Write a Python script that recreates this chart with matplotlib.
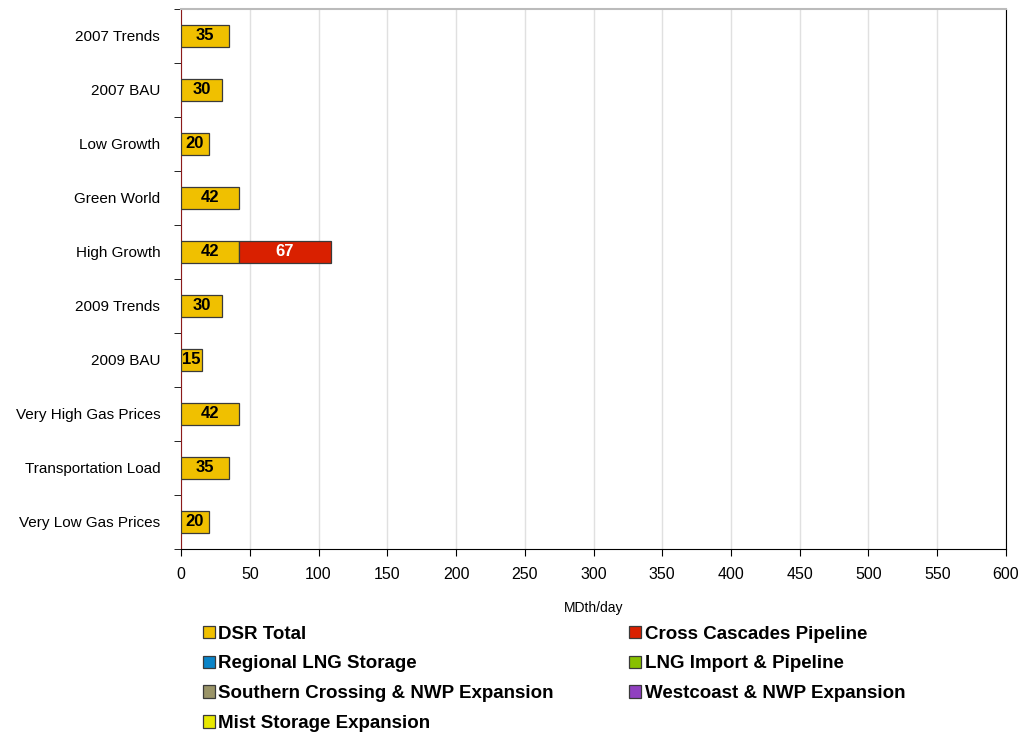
import numpy as np
import matplotlib.pyplot as plt

plt.rcParams['font.family'] = ['Liberation Sans', 'DejaVu Sans']

# scenarios, top to bottom
scenarios = ['2007 Trends', '2007 BAU', 'Low Growth', 'Green World', 'High Growth',
             '2009 Trends', '2009 BAU', 'Very High Gas Prices', 'Transportation Load',
             'Very Low Gas Prices']

# resource additions, MDth/day
dsr_total = [35, 30, 20, 42, 42, 30, 15, 42, 35, 20]
cross_cascades = [0, 0, 0, 0, 67, 0, 0, 0, 0, 0]
regional_lng = [0] * 10
lng_import = [0] * 10
southern_crossing = [0] * 10
westcoast = [0] * 10
mist_storage = [0] * 10

series = [
    ('DSR Total', dsr_total, '#F0C000', 'black'),
    ('Cross Cascades Pipeline', cross_cascades, '#D92000', 'white'),
    ('Regional LNG Storage', regional_lng, '#0A84C8', 'white'),
    ('LNG Import & Pipeline', lng_import, '#88C000', 'black'),
    ('Southern Crossing & NWP Expansion', southern_crossing, '#9A9468', 'black'),
    ('Westcoast & NWP Expansion', westcoast, '#9040C0', 'white'),
    ('Mist Storage Expansion', mist_storage, '#E8E800', 'black'),
]

fig = plt.figure(figsize=(10.21, 7.36), dpi=100)
ax = fig.add_axes([0.1773, 0.2541, 0.808, 0.7337])

y = np.arange(len(scenarios))
left = np.zeros(len(scenarios))
handles = []
for name, vals, col, tcol in series:
    vals = np.array(vals, dtype=float)
    keep = vals > 0
    ax.barh(y[keep], vals[keep], left=left[keep], height=0.41, color=col,
            edgecolor='#3a3a3a', linewidth=0.9, zorder=3)
    for yi, v, l in zip(y[keep], vals[keep], left[keep]):
        ax.text(l + v / 2, yi, f'{v:.0f}', ha='center', va='center',
                fontsize=12, fontweight='bold', color=tcol, zorder=4)
    left += vals
    handles.append(plt.Rectangle((0, 0), 1, 1, facecolor=col, edgecolor='#3a3a3a', linewidth=0.9))

ax.set_xlim(0, 600)
ax.set_ylim(len(scenarios) - 0.5, -0.5)
ax.set_xticks(np.arange(0, 601, 50))
ax.set_yticks(y)
ax.set_yticklabels(scenarios, fontsize=11)
ax.set_yticks(np.arange(-0.5, len(scenarios), 1), minor=True)
ax.tick_params(axis='y', which='major', length=0, pad=15)
ax.tick_params(axis='y', which='minor', length=5, direction='out')
ax.tick_params(axis='x', labelsize=11.5, length=5, direction='out', pad=8)
ax.xaxis.grid(True, color='#e0e0e0', linewidth=1, zorder=0)
ax.set_axisbelow(True)
ax.set_xlabel('MDth/day', fontsize=10, labelpad=14)

ax.spines['left'].set_color('#8B1A1A')
ax.spines['top'].set_color('#bbbbbb')
ax.spines['top'].set_linewidth(1.5)
ax.spines['right'].set_color('black')
ax.spines['bottom'].set_color('black')

# legend is row-major in two columns, matplotlib fills columns first
order = [0, 2, 4, 6, 1, 3, 5]
fig.legend([handles[i] for i in order], [series[i][0] for i in order],
           loc='upper left', bbox_to_anchor=(0.191, 0.16), ncol=2,
           frameon=False, prop={'size': 13.5, 'weight': 'bold'},
           handlelength=0.65, handleheight=0.65, handletextpad=0.2,
           columnspacing=4.0, labelspacing=0.68, borderaxespad=0)

fig.savefig('out.png', dpi=100)
